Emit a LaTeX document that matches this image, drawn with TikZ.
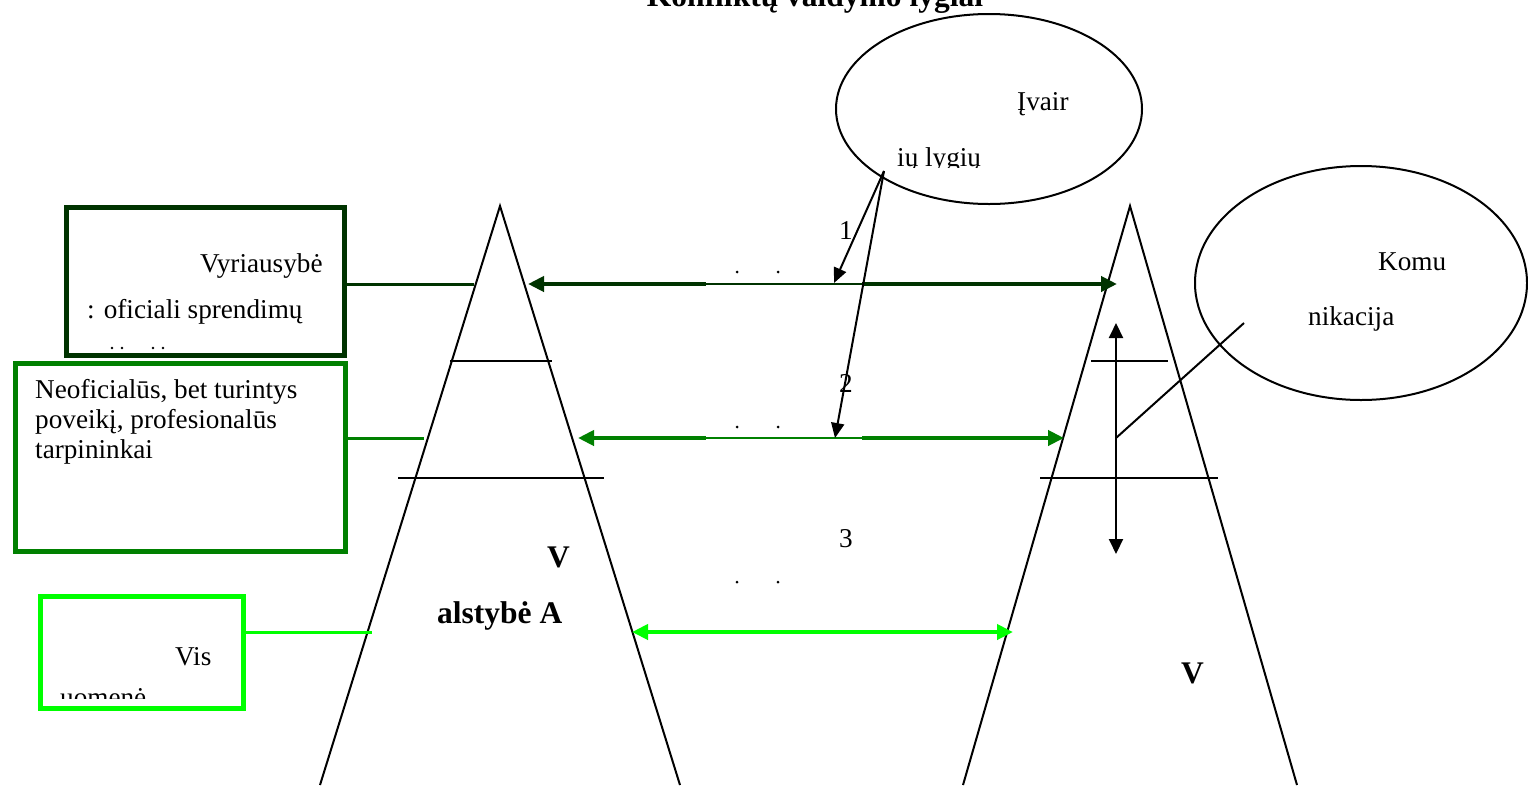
\documentclass[tikz,border=0pt]{standalone}
\usepackage{fontspec}
\setmainfont{Liberation Serif}
\usepackage{tikz}
\usetikzlibrary{arrows.meta,positioning,shapes.geometric}
\definecolor{govgreen}{RGB}{0,51,0}
\definecolor{midgreen}{RGB}{0,128,0}
\definecolor{limegreen}{RGB}{0,255,0}

\begin{document}
\begin{tikzpicture}[x=1pt, y=-1pt,
lvlbox/.style={rectangle, draw, line width=5.5pt, inner sep=0pt, fill=white},
bubble/.style={ellipse, draw, line width=2pt, inner sep=0pt},
txt/.style={anchor=base west, inner sep=0pt, font=\fontsize{27.2}{30}\selectfont},
btxt/.style={anchor=base west, inner sep=0pt, font=\fontsize{31.5}{36}\selectfont\bfseries},
gapbox/.style={rectangle, fill=white, inner sep=0pt, minimum width=156pt, minimum height=30pt},
link/.style={line width=3pt},
arrow/.style={{Triangle[length=16pt,width=15pt]}-{Triangle[length=16pt,width=15pt]}, line width=4pt},
pointer/.style={-{Triangle[length=15pt,width=13pt]}, line width=2pt},
edge/.style={line width=2pt}
]
\useasboundingbox (0,0) rectangle (1528,785);
\clip (0,0) rectangle (1528,785);

% Title
\node[btxt, anchor=base] (title) at (815,6) {Konfliktų valdymo lygiai};

% States
\draw[edge] (320,785) -- (500,206) -- (680,785);
\draw[edge] (963,785) -- (1130,206) -- (1297,785);
\draw[edge] (450,361) -- (552,361);
\draw[edge] (398,478) -- (604,478);
\draw[edge] (1091,361) -- (1168,361);
\draw[edge] (1040,478) -- (1218,478);
\node[btxt] (stA1) at (547,567) {V};
\node[btxt] (stA2) at (437,623) {alstybė A};
\node[btxt] (stB) at (1181,683) {V};

% Level boxes
\node[lvlbox, draw=midgreen, minimum width=330pt, minimum height=188pt] (box2) at (180.5,457.5) {};
\node[lvlbox, draw=govgreen, minimum width=278pt, minimum height=148pt] (box1) at (205.5,281.5) {};
\node[lvlbox, draw=limegreen, minimum width=203pt, minimum height=112pt] (box3) at (142,652.5) {};

\node[txt] (gov1) at (200,272) {Vyriausybė};
\node[txt] (gov2) at (87,318) {: oficiali sprendimų};
\foreach \dx in {112,122,153,163}
  \fill (\dx,348) circle (1.3pt);
\node[txt, align=left, anchor=north west] (mid) at (35,379) {Neoficialūs, bet turintys\\poveikį, profesionalūs\\tarpininkai};
\begin{scope}
  \clip (40.5,596.5) rectangle (243.5,698);
  \node[txt] (pub1) at (175,665) {Vis};
  \node[txt] (pub2) at (60,706) {uomenė};
\end{scope}

% Links to the state
\coordinate (l1) at (474,284);
\coordinate (l2) at (424,438);
\coordinate (l3) at (372,632);
\draw[link, govgreen] (box1.east |- l1) -- (l1);
\draw[link, midgreen] (box2.east |- l2) -- (l2);
\draw[link, limegreen] (box3.east |- l3) -- (l3);

% Levels
\draw[arrow, govgreen] (528,284) -- (1117,284);
\draw[arrow, midgreen] (578,438) -- (1064,438);
\draw[arrow, limegreen] (632,632) -- (1013,632);

\node[gapbox] (gap1) at (784,271.5) {};
\node[gapbox] (gap2) at (784,425.5) {};
\draw[govgreen, line width=1.5pt] ([yshift=2.5pt]gap1.south west) -- ([yshift=2.5pt]gap1.south east);
\draw[midgreen, line width=1.5pt] ([yshift=2.5pt]gap2.south west) -- ([yshift=2.5pt]gap2.south east);
\foreach \dy in {272,427,582}{
  \fill (737,\dy) circle (1.5pt);
  \fill (778,\dy) circle (1.5pt);
}
\node[txt, anchor=base] (n1) at (846,239) {1};
\node[txt, anchor=base] (n2) at (846,392) {2};
\node[txt, anchor=base] (n3) at (846,547) {3};

% Various levels
\node[bubble, minimum width=306pt, minimum height=190pt] (lvl) at (989,109) {};
\begin{scope}
  \clip (836,14) rectangle (1142,167);
  \node[txt] (lvl1) at (1017,110) {Įvair};
  \node[txt] (lvl2) at (897,166) {ių lygių};
\end{scope}
\coordinate (src) at (884,171);
\coordinate (p1) at (834,283);
\coordinate (p2) at (835,438);
\draw[pointer] (src) -- (p1);
\draw[pointer] (src) -- (p2);

% Communication
\node[bubble, minimum width=332pt, minimum height=234pt] (com) at (1361,283) {};
\node[txt] (com1) at (1378,270) {Komu};
\node[txt] (com2) at (1308,325) {nikacija};
\coordinate (vtop) at (1116,323);
\coordinate (vbot) at (1116,554);
\coordinate (vmid) at (1116,438);
\coordinate (kom) at (1244,323);
\draw[{Triangle[length=15pt,width=14pt]}-{Triangle[length=15pt,width=14pt]}, line width=2pt] (vtop) -- (vbot);
\draw[edge] (vmid) -- (kom);

\end{tikzpicture}
\end{document}
